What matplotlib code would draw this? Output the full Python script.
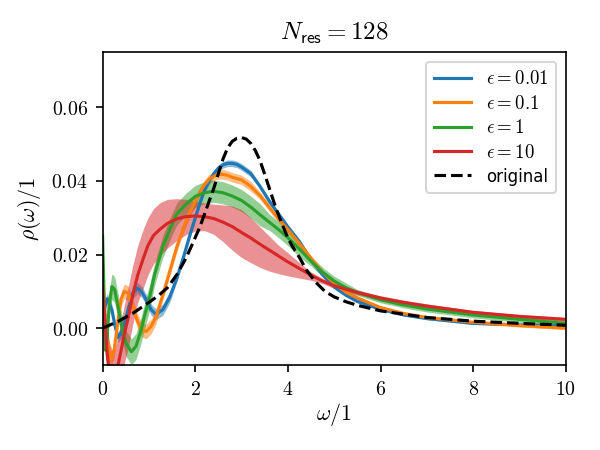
import matplotlib
matplotlib.use("Agg")
import matplotlib.pyplot as plt
import numpy as np

plt.rcParams['mathtext.fontset'] = 'cm'
plt.rcParams['font.family'] = ['DejaVu Sans']

# ---- data ----
x_orig = [0.0, 0.33, 0.66, 1.0, 1.2, 1.4, 1.6, 1.8, 1.95, 2.1, 2.2, 2.3, 2.4, 2.5, 2.6, 2.7, 2.8,
          2.9, 3.0, 3.1, 3.2, 3.3, 3.4, 3.5, 3.6, 3.7, 3.8, 3.9, 4.0, 4.1, 4.25, 4.4, 4.6, 4.8,
          5.0, 5.25, 5.5, 6.0, 7.0, 8.0, 9.0, 10.0]
y_orig = [0.0, 0.0018, 0.0041, 0.0070, 0.0088, 0.0110, 0.0145, 0.0190, 0.0232, 0.0275, 0.0310,
          0.0345, 0.0380, 0.0420, 0.0460, 0.0490, 0.0508, 0.0516, 0.0518, 0.0514, 0.0502, 0.0482,
          0.0455, 0.0418, 0.0380, 0.0342, 0.0307, 0.0275, 0.0245, 0.0222, 0.0192, 0.0158, 0.0125,
          0.0100, 0.0085, 0.0072, 0.0062, 0.0047, 0.0029, 0.0019, 0.0013, 0.0008]

x_b = [0.0, 0.1, 0.2, 0.27, 0.33, 0.42, 0.55, 0.65, 0.75, 0.85, 0.95, 1.05, 1.15, 1.3, 1.45,
       1.6, 1.75, 1.9, 2.0, 2.1, 2.2, 2.3, 2.4, 2.5, 2.6, 2.7, 2.8, 2.9, 3.0, 3.2, 3.4, 3.6, 3.8,
       4.0, 4.25, 4.5, 4.75, 5.0, 5.25, 5.5, 6.0, 6.5, 7.0, 8.0, 9.0, 10.0]
y_b = [0.004, 0.008, 0.005, 0.0005, -0.0025, -0.001, 0.005, 0.0095, 0.0109, 0.0098, 0.0075, 0.005,
       0.0038, 0.005, 0.0085, 0.0135, 0.0195, 0.026, 0.030, 0.034, 0.0375, 0.040, 0.042, 0.0435,
       0.0444, 0.0448, 0.0448, 0.0445, 0.0438, 0.042, 0.0385, 0.0345, 0.031, 0.0275, 0.0235, 0.0185,
       0.0145, 0.0112, 0.0090, 0.0073, 0.0051, 0.0036, 0.0026, 0.0013, 0.0009, 0.0007]
w_b = [0.0015] * 15 + [0.0011] * 5 + [0.0009] * 10 + [0.0007] * 5 + [0.0005] * 5 + [0.0003] * 6

x_o = [0.0, 0.08, 0.18, 0.25, 0.32, 0.4, 0.47, 0.55, 0.65, 0.75, 0.85, 0.94, 1.05, 1.15, 1.3,
       1.45, 1.6, 1.75, 1.9, 2.0, 2.1, 2.2, 2.3, 2.4, 2.5, 2.6, 2.7, 2.8, 3.0, 3.2, 3.4, 3.6, 3.8,
       4.0, 4.25, 4.5, 4.75, 5.0, 5.25, 5.5, 6.0, 6.5, 7.0, 8.0, 9.0, 10.0]
y_o = [0.006, -0.002, -0.0085, -0.006, 0.001, 0.008, 0.010, 0.0095, 0.006, 0.002, -0.0005, -0.0009,
       0.0005, 0.003, 0.009, 0.0155, 0.022, 0.0275, 0.032, 0.0345, 0.037, 0.039, 0.0405, 0.0413,
       0.0418, 0.0418, 0.0415, 0.041, 0.0403, 0.0385, 0.036, 0.0328, 0.0297, 0.0268, 0.023, 0.019,
       0.0152, 0.0122, 0.0098, 0.0082, 0.0056, 0.0040, 0.0029, 0.0016, 0.0007, 0.0]
w_o = [0.002] * 14 + [0.0014] * 6 + [0.0013] * 10 + [0.001] * 5 + [0.0006] * 5 + [0.0004] * 6

x_g = [0.0, 0.03, 0.06, 0.09, 0.14, 0.2, 0.26, 0.33, 0.42, 0.5, 0.62, 0.72, 0.82, 0.92, 1.02,
       1.12, 1.3, 1.49, 1.6, 1.8, 2.0, 2.2, 2.4, 2.6, 2.8, 3.0, 3.2, 3.4, 3.6, 3.8, 4.0, 4.25, 4.5,
       4.75, 5.0, 5.25, 5.5, 6.0, 6.5, 7.0, 8.0, 9.0, 10.0]
y_g = [0.025, 0.01, -0.006, -0.004, 0.006, 0.0113, 0.0105, 0.006, 0.0, -0.004, -0.0064, -0.005,
       -0.001, 0.004, 0.0086, 0.0145, 0.0222, 0.028, 0.031, 0.0337, 0.0358, 0.0368, 0.0372, 0.0368,
       0.0359, 0.0347, 0.0329, 0.0308, 0.0288, 0.0268, 0.0246, 0.0215, 0.0182, 0.0152, 0.0128,
       0.011, 0.0097, 0.0077, 0.0063, 0.0052, 0.0036, 0.0024, 0.0013]
w_g = [0.0035] * 15 + [0.003] * 13 + [0.0022] * 4 + [0.0013] * 4 + [0.0008] * 7

x_r = [0.0, 0.05, 0.1, 0.15, 0.22, 0.3, 0.4, 0.48, 0.55, 0.65, 0.76, 0.88, 0.98, 1.1, 1.25, 1.4,
       1.6, 1.8, 2.0, 2.2, 2.4, 2.6, 2.8, 3.0, 3.2, 3.4, 3.6, 3.8, 4.0, 4.25, 4.5, 4.75, 5.0, 5.5,
       6.0, 6.5, 7.0, 8.0, 9.0, 10.0]
y_r = [0.011, 0.002, -0.007, -0.012, -0.0145, -0.012, -0.006, -0.001, 0.0027, 0.009, 0.0145, 0.019,
       0.0225, 0.0252, 0.027, 0.0285, 0.0297, 0.0303, 0.0305, 0.0303, 0.0298, 0.0288, 0.0276, 0.026,
       0.0245, 0.0228, 0.0212, 0.0196, 0.018, 0.0162, 0.0144, 0.0128, 0.0115, 0.0097, 0.0082, 0.007,
       0.006, 0.0043, 0.0032, 0.0024]
hi_r = [0.017, 0.009, 0.001, -0.004, -0.0065, -0.004, 0.002, 0.007, 0.011, 0.017, 0.0225, 0.027,
        0.030, 0.0325, 0.0342, 0.035, 0.0352, 0.035, 0.0345, 0.034, 0.0337, 0.0335, 0.0332, 0.0322,
        0.030, 0.0275, 0.025, 0.0225, 0.0205, 0.0178, 0.0153, 0.0135, 0.0122, 0.0103, 0.0088,
        0.0076, 0.0066, 0.0048, 0.0037, 0.0029]
lo_r = [0.005, -0.005, -0.015, -0.020, -0.0225, -0.020, -0.014, -0.009, -0.0056, 0.001, 0.007, 0.011,
        0.0145, 0.0175, 0.0198, 0.0218, 0.0238, 0.0254, 0.0264, 0.0265, 0.0255, 0.0235, 0.0212,
        0.0192, 0.0178, 0.0165, 0.0155, 0.0148, 0.0142, 0.0136, 0.0130, 0.0121, 0.0108, 0.0091,
        0.0076, 0.0064, 0.0054, 0.0038, 0.0027, 0.0019]

labels = [r'$\epsilon = 0.01$', r'$\epsilon = 0.1$', r'$\epsilon = 1$', r'$\epsilon = 10$']
colors = ['#1f77b4', '#ff7f0e', '#2ca02c', '#d62728']

fig = plt.figure(figsize=(4, 3), dpi=150)
ax = fig.add_axes([0.171, 0.189, 0.772, 0.695])

series = [(x_b, y_b, w_b), (x_o, y_o, w_o), (x_g, y_g, w_g)]
for (xs, ys, ws), lab, c in zip(series, labels[:3], colors[:3]):
    xs = np.array(xs); ys = np.array(ys); ws = np.array(ws)
    ax.fill_between(xs, ys - ws, ys + ws, color=c, alpha=0.5, lw=0)
    ax.plot(xs, ys, color=c, lw=1.5, label=lab)

ax.fill_between(x_r, lo_r, hi_r, color=colors[3], alpha=0.5, lw=0)
ax.plot(x_r, y_r, color=colors[3], lw=1.5, label=labels[3])

ax.plot(x_orig, y_orig, 'k--', lw=1.5, label='original')

ax.set_xlim(0, 10)
ax.set_ylim(-0.01, 0.075)
ax.set_xticks([0, 2, 4, 6, 8, 10])
ax.set_yticks([0.0, 0.02, 0.04, 0.06])
ax.xaxis.set_major_formatter(matplotlib.ticker.FuncFormatter(lambda v, p: f'${v:g}$'))
ax.yaxis.set_major_formatter(matplotlib.ticker.FuncFormatter(lambda v, p: f'${v:.2f}$'))
ax.tick_params(labelsize=9.5)

ax.set_xlabel(r'$\omega/1$', fontsize=10.5, labelpad=1)
ax.set_ylabel(r'$\rho(\omega)/1$', fontsize=10.5)
ax.set_title(r'$N_{\mathsf{res}} = 128$', fontsize=12)

leg = ax.legend(loc='upper right', fontsize=9, labelspacing=0.3)
for t in leg.get_texts()[4:]:
    t.set_fontsize(8)

fig.savefig('out.png', dpi=150)
